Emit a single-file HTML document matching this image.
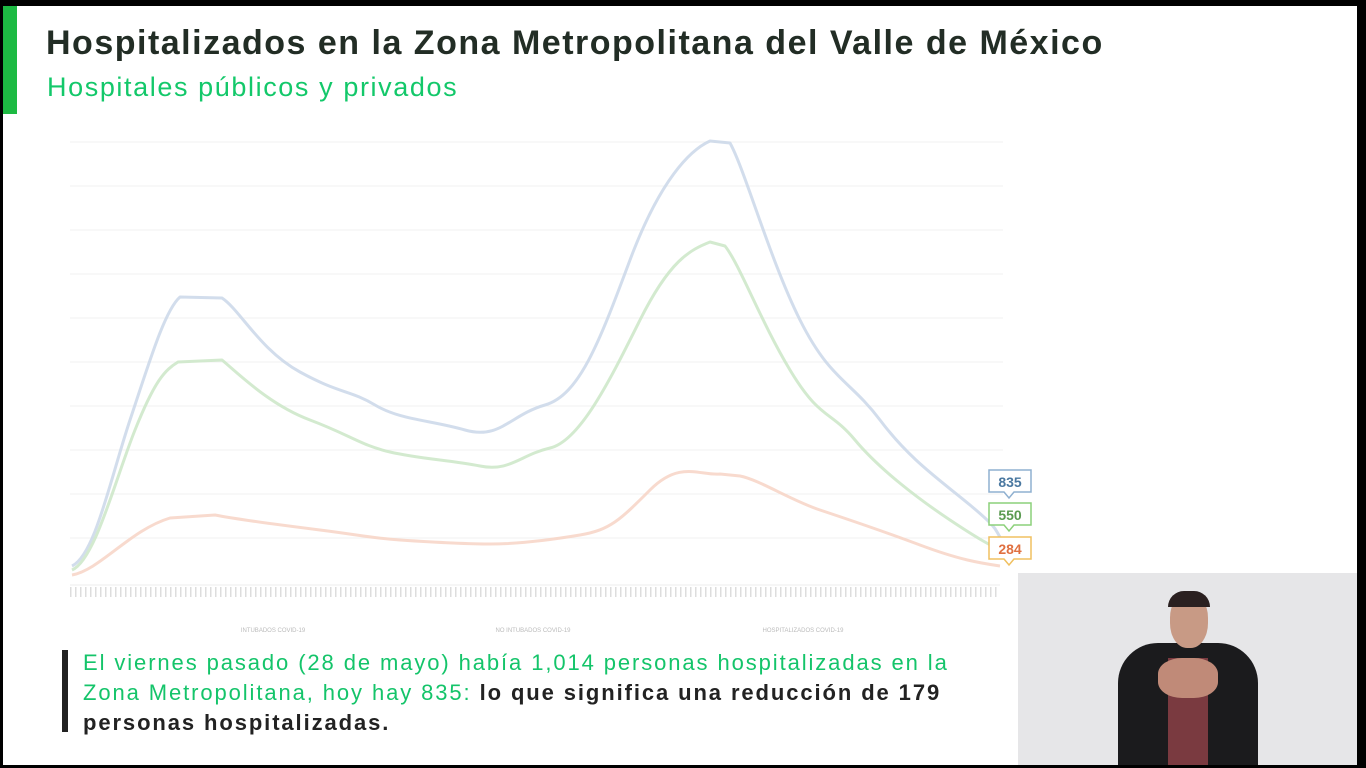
<!DOCTYPE html>
<html><head><meta charset="utf-8"><style>
body{margin:0;width:1366px;height:768px;background:#000;position:relative;overflow:hidden;font-family:"Liberation Sans",sans-serif}
#pg{position:absolute;left:3px;top:6px;width:1354px;height:759px;background:#fff}
.t{position:absolute;white-space:nowrap}
</style></head><body>
<div id="pg"></div>
<div style="position:absolute;left:3px;top:6px;width:14px;height:108px;background:#1dba43"></div>
<div class="t" style="left:46px;top:24px;font-size:34px;letter-spacing:1.5px;font-weight:bold;color:#222d25">Hospitalizados en la Zona Metropolitana del Valle de México</div>
<div class="t" style="left:47px;top:72px;font-size:27px;letter-spacing:1.6px;color:#13c86a">Hospitales públicos y privados</div>
<svg style="position:absolute;left:0;top:0" width="1366" height="768">
<g stroke="#f2f2f2" stroke-width="1">
<line x1="70" x2="1003" y1="142" y2="142"/><line x1="70" x2="1003" y1="186" y2="186"/><line x1="70" x2="1003" y1="230" y2="230"/><line x1="70" x2="1003" y1="274" y2="274"/><line x1="70" x2="1003" y1="318" y2="318"/><line x1="70" x2="1003" y1="362" y2="362"/><line x1="70" x2="1003" y1="406" y2="406"/><line x1="70" x2="1003" y1="450" y2="450"/><line x1="70" x2="1003" y1="494" y2="494"/><line x1="70" x2="1003" y1="538" y2="538"/>
</g>
<line x1="70" x2="1000" y1="585" y2="585" stroke="#eee" stroke-width="1"/>
<line x1="70" x2="1000" y1="592" y2="592" stroke="#ddd" stroke-width="10" stroke-dasharray="1.5 3.5"/>
<g fill="none" stroke-width="3" stroke-linejoin="round" opacity="0.8">
<path stroke="#c8d5e8" d="M72,566 C95,555 110,480 130,420 S165,310 180,297 L222,298 C240,310 260,350 300,372 S350,390 375,405 S430,420 465,430 S510,415 545,405 S600,340 630,260 S690,150 710,141 L730,143 C745,170 770,260 800,320 S850,380 880,420 S940,480 970,505 S995,530 1000,537"/>
<path stroke="#c9e6c4" d="M72,570 C95,560 115,480 135,430 S165,370 178,362 L222,360 C240,375 270,405 310,420 S360,445 390,452 S450,460 480,466 S520,455 550,448 S610,380 640,320 S690,250 710,242 L725,246 C740,265 760,320 790,370 S830,410 855,440 S920,500 950,520 S990,545 1000,550"/>
<path stroke="#f7d2c2" d="M72,575 C100,570 130,530 170,518 L215,515 C240,520 280,525 320,530 S370,538 400,540 S460,544 490,544 S550,540 580,535 S620,520 650,490 S700,476 720,474 L740,476 C760,480 790,500 820,510 S880,530 920,545 S980,563 1000,566"/>
</g>
<g font-family="Liberation Sans,sans-serif" font-size="14" font-weight="bold" text-anchor="middle">
<path d="M989,470 H1031 V492 H1014 L1009,498 L1004,492 H989 Z" fill="#fff" stroke="#8fb0d0" stroke-width="1.5"/>
<text x="1010" y="487" fill="#4a78a0">835</text>
<path d="M989,503 H1031 V525 H1014 L1009,531 L1004,525 H989 Z" fill="#fff" stroke="#8cd07a" stroke-width="1.5"/>
<text x="1010" y="520" fill="#5a9a50">550</text>
<path d="M989,537 H1031 V559 H1014 L1009,565 L1004,559 H989 Z" fill="#fff" stroke="#f0c060" stroke-width="1.5"/>
<text x="1010" y="554" fill="#e07040">284</text>
</g>
<g font-family="Liberation Sans,sans-serif" font-size="6" fill="#bbb" text-anchor="middle">
<text x="273" y="632">INTUBADOS COVID-19</text><text x="533" y="632">NO INTUBADOS COVID-19</text><text x="803" y="632">HOSPITALIZADOS COVID-19</text>
</g>
</svg>
<div style="position:absolute;left:62px;top:650px;width:6px;height:82px;background:#222"></div>
<div class="t" style="left:83px;top:648px;font-size:22px;letter-spacing:1.9px;line-height:30px;color:#14c46a">El viernes pasado (28 de mayo) había 1,014 personas hospitalizadas en la<br>Zona Metropolitana, hoy hay 835: <b style="color:#222;letter-spacing:1.9px">lo que significa una reducción de 179</b><br><b style="color:#222;letter-spacing:1.9px">personas hospitalizadas.</b></div>
<div style="position:absolute;left:1018px;top:573px;width:339px;height:192px;background:#e6e6e8;overflow:hidden">
<div style="position:absolute;left:100px;top:70px;width:140px;height:130px;background:#1b1b1d;border-radius:40px 40px 0 0"></div>
<div style="position:absolute;left:150px;top:85px;width:40px;height:110px;background:#7a3a40"></div>
<div style="position:absolute;left:152px;top:20px;width:38px;height:55px;background:#c89a85;border-radius:45%"></div>
<div style="position:absolute;left:150px;top:18px;width:42px;height:16px;background:#2a2020;border-radius:20px 20px 0 0"></div>
<div style="position:absolute;left:140px;top:85px;width:60px;height:40px;background:#c08a78;border-radius:40%"></div>
</div>
</body></html>
